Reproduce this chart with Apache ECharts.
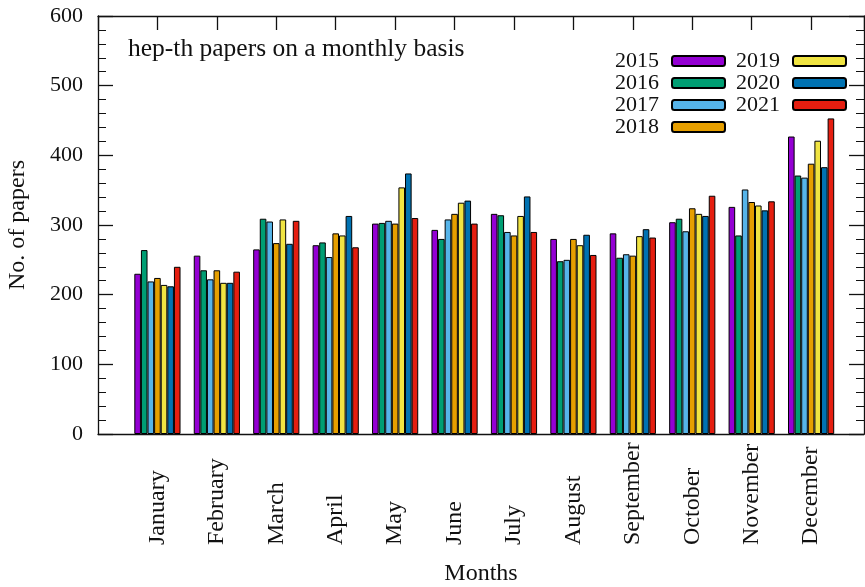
<!DOCTYPE html>
<html>
<head>
<meta charset="utf-8">
<script src="https://cdn.jsdelivr.net/npm/echarts@6/dist/echarts.min.js"></script>
<style>html,body{margin:0;padding:0;background:#fff}#c{width:865px;height:587px}</style>
</head>
<body>
<div id="c"></div>
<script>
const months = ['January','February','March','April','May','June','July','August','September','October','November','December'];
const years = ['2015','2016','2017','2018','2019','2020','2021'];
const y2015 = [230,256,265,271,302,293,316,280,288,304,326,427];
const y2016 = [264,235,309,275,303,280,314,248,253,309,285,371];
const y2017 = [219,222,305,254,306,308,290,250,258,291,351,368];
const y2018 = [224,235,274,288,302,316,285,280,256,324,333,388];
const y2019 = [214,217,308,285,354,332,313,271,284,316,328,421];
const y2020 = [212,217,273,313,374,335,341,286,294,313,321,383];
const y2021 = [240,233,306,268,310,302,290,257,282,342,334,453];
const yTicks = [0,100,200,300,400,500,600];
const seriesValues = [y2015,y2016,y2017,y2018,y2019,y2020,y2021];
const colors = ['#9400d3','#009e73','#56b4e9','#e69f00','#f0e442','#0072b2','#e51e10'];

const FONT = 'Liberation Serif';
const chart = echarts.init(document.getElementById('c'), null, {renderer:'canvas'});
const xMin = -1, xMax = 11.89;
const lineStyle = {color:'#111', width:1.3};

function monthLabel(v){
  const r = Math.round(v);
  if (Math.abs(v - r) > 1e-6 || r < 0 || r >= months.length) return '';
  return months[r];
}

chart.setOption({
  animation:false,
  backgroundColor:'#fff',
  color: colors,
  title:{
    text:'hep-th papers on a monthly basis',
    left:128, top:36, padding:0,
    textStyle:{fontFamily:FONT, fontSize:25.5, fontWeight:'normal', color:'#111'}
  },
  legend:[
    {
      data: years.slice(0,4), orient:'vertical', align:'right',
      right:139, top:50, padding:0, itemGap:0, itemWidth:53, itemHeight:10,
      textStyle:{fontFamily:FONT, fontSize:22, color:'#111', lineHeight:19, padding:[0,8,0,0]}
    },
    {
      data: years.slice(4), orient:'vertical', align:'right',
      right:18, top:50, padding:0, itemGap:0, itemWidth:53, itemHeight:10,
      textStyle:{fontFamily:FONT, fontSize:22, color:'#111', lineHeight:19, padding:[0,8,0,0]}
    }
  ],
  grid:{left:98, right:1, top:16, bottom:153, containLabel:false, outerBoundsMode:'none'},
  xAxis:[
    {
      type:'value', min:xMin, max:xMax, interval:1, position:'bottom',
      name:'Months', nameLocation:'middle', nameGap:128,
      nameTextStyle:{fontFamily:FONT, fontSize:24, color:'#111'},
      axisLine:{show:true, onZero:false, lineStyle:lineStyle},
      axisTick:{show:false},
      splitLine:{show:false},
      axisLabel:{
        formatter: monthLabel, rotate:90, align:'left', verticalAlign:'middle',
        margin:111, fontFamily:FONT, fontSize:24, color:'#111'
      }
    },
    {
      type:'value', min:xMin, max:xMax, interval:1, position:'top',
      axisLine:{show:true, onZero:false, lineStyle:lineStyle},
      axisTick:{show:true, inside:true, length:14, lineStyle:lineStyle},
      axisLabel:{show:false},
      splitLine:{show:false}
    }
  ],
  yAxis:[
    {
      type:'value', min:yTicks[0], max:yTicks[yTicks.length-1], interval:100, position:'left',
      name:'No. of papers', nameLocation:'middle', nameGap:68, nameRotate:90,
      nameTextStyle:{fontFamily:FONT, fontSize:24, color:'#111'},
      axisLine:{show:true, onZero:false, lineStyle:lineStyle},
      axisTick:{show:true, inside:true, length:15, lineStyle:lineStyle},
      minorTick:{show:true, splitNumber:5, length:8, lineStyle:{color:'#111', width:1}},
      splitLine:{show:false},
      axisLabel:{margin:15, fontFamily:FONT, fontSize:22, color:'#111'}
    },
    {
      type:'value', min:yTicks[0], max:yTicks[yTicks.length-1], interval:100, position:'right',
      axisLine:{show:true, onZero:false, lineStyle:lineStyle},
      axisTick:{show:true, inside:true, length:15, lineStyle:lineStyle},
      minorTick:{show:true, splitNumber:5, length:8, lineStyle:{color:'#111', width:1}},
      splitLine:{show:false},
      axisLabel:{show:false}
    }
  ],
  series: years.map((y, j) => ({
    name: y,
    type:'bar',
    xAxisIndex:0, yAxisIndex:0,
    barWidth:6.6,
    barGap:'0%',
    itemStyle:{color:colors[j], borderColor:'#000', borderWidth:1},
    data: seriesValues[j].map((v, i) => [i, v])
  }))
});
</script>
</body>
</html>
